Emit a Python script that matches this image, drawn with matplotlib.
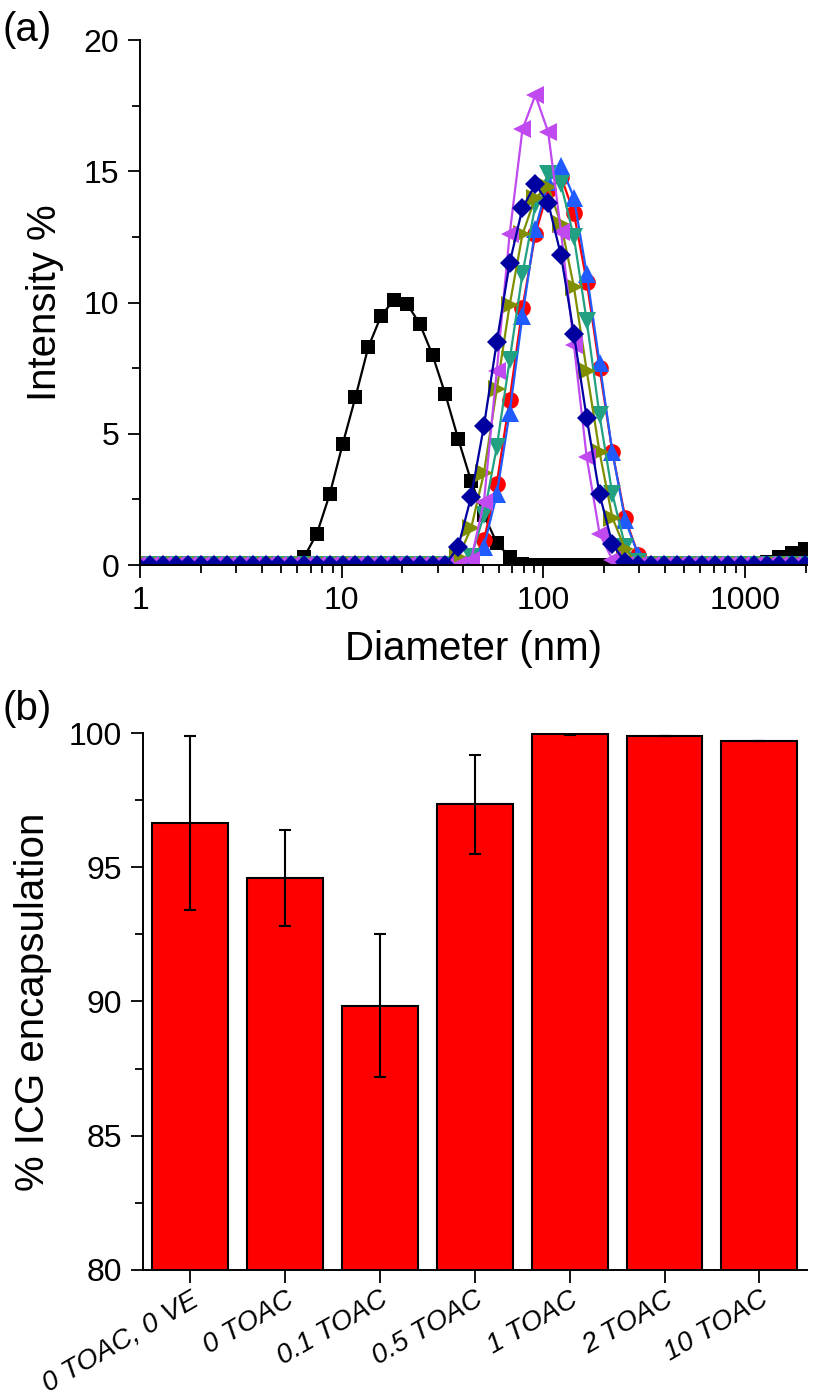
import matplotlib
matplotlib.use('Agg')
import matplotlib.pyplot as plt
from matplotlib.ticker import LogLocator, NullFormatter, MultipleLocator

plt.rcParams['font.family'] = ['Liberation Sans', 'DejaVu Sans']

# DLS size bins (nm)
diam = [0.965, 1.117, 1.294, 1.499, 1.736, 2.010, 2.328, 2.696, 3.122, 3.615,
        4.187, 4.849, 5.615, 6.503, 7.531, 8.721, 10.10, 11.70, 13.54, 15.69,
        18.17, 21.04, 24.36, 28.21, 32.67, 37.84, 43.82, 50.75, 58.77, 68.06,
        78.82, 91.28, 105.7, 122.4, 141.8, 164.2, 190.1, 220.2, 255.0, 295.3,
        342.0, 396.1, 458.7, 531.2, 615.1, 712.4, 825.0, 955.4, 1106, 1281,
        1484, 1718, 1990]

black = [0, 0, 0, 0, 0, 0, 0, 0, 0, 0, 0, 0, 0,
         0.3, 1.2, 2.7, 4.6, 6.4, 8.3, 9.5, 10.1, 9.95, 9.2, 8.0, 6.5, 4.8, 3.2, 1.9, 0.85, 0.3, 0.05,
         0, 0, 0, 0, 0, 0, 0, 0, 0, 0, 0, 0, 0, 0, 0, 0, 0, 0,
         0.1, 0.3, 0.45, 0.6]
red = [0, 0, 0, 0, 0, 0, 0, 0, 0, 0, 0, 0, 0, 0, 0, 0, 0, 0, 0, 0, 0, 0, 0, 0, 0, 0,
       0.1, 0.95, 3.1, 6.3, 9.8, 12.6, 14.3, 14.8, 13.4, 10.8, 7.5, 4.3, 1.8, 0.4,
       0, 0, 0, 0, 0, 0, 0, 0, 0, 0, 0, 0, 0]
blue = [0, 0, 0, 0, 0, 0, 0, 0, 0, 0, 0, 0, 0, 0, 0, 0, 0, 0, 0, 0, 0, 0, 0, 0, 0, 0, 0,
        0.7, 2.7, 5.8, 9.5, 12.8, 14.6, 15.2, 14.0, 11.1, 7.7, 4.3, 1.7, 0.4,
        0, 0, 0, 0, 0, 0, 0, 0, 0, 0, 0, 0, 0]
teal = [0, 0, 0, 0, 0, 0, 0, 0, 0, 0, 0, 0, 0, 0, 0, 0, 0, 0, 0, 0, 0, 0, 0, 0, 0, 0,
        0.3, 1.9, 4.5, 7.8, 11.1, 13.7, 14.9, 14.5, 12.5, 9.3, 5.7, 2.7, 0.7, 0.1,
        0, 0, 0, 0, 0, 0, 0, 0, 0, 0, 0, 0, 0]
olive = [0, 0, 0, 0, 0, 0, 0, 0, 0, 0, 0, 0, 0, 0, 0, 0, 0, 0, 0, 0, 0, 0, 0, 0, 0,
         0.3, 1.4, 3.5, 6.7, 9.9, 12.6, 14.0, 14.4, 13.0, 10.6, 7.4, 4.3, 1.8, 0.6,
         0, 0, 0, 0, 0, 0, 0, 0, 0, 0, 0, 0, 0, 0]
violet = [0, 0, 0, 0, 0, 0, 0, 0, 0, 0, 0, 0, 0, 0, 0, 0, 0, 0, 0, 0, 0, 0, 0, 0, 0, 0,
          0.2, 2.4, 7.4, 12.6, 16.6, 17.9, 16.5, 12.7, 8.4, 4.1, 1.2, 0.2,
          0, 0, 0, 0, 0, 0, 0, 0, 0, 0, 0, 0, 0, 0, 0]
navy = [0, 0, 0, 0, 0, 0, 0, 0, 0, 0, 0, 0, 0, 0, 0, 0, 0, 0, 0, 0, 0, 0, 0, 0, 0,
        0.7, 2.6, 5.3, 8.5, 11.5, 13.6, 14.5, 13.8, 11.8, 8.8, 5.6, 2.7, 0.8, 0.1,
        0, 0, 0, 0, 0, 0, 0, 0, 0, 0, 0, 0, 0, 0]

# bar chart data
samples = ['0 TOAC, 0 VE', '0 TOAC', '0.1 TOAC', '0.5 TOAC', '1 TOAC', '2 TOAC', '10 TOAC']
encap = [96.65, 94.6, 89.85, 97.35, 99.95, 99.9, 99.7]
encap_err = [3.25, 1.8, 2.65, 1.85, 0.02, 0, 0]

fig = plt.figure(figsize=(8.15, 14), dpi=100)

# ---- (a) size distributions ----
ax1 = fig.add_axes([0.172, 0.5964, 0.818, 0.375])
series = [(black, '#000000', 's', 10.5),
          (red, '#FF0000', 'o', 12),
          (blue, '#1F5BFF', '^', 13),
          (teal, '#22A082', 'v', 13),
          (olive, '#7F8F00', '>', 13),
          (violet, '#C04AF0', '<', 13),
          (navy, '#0000A0', 'D', 10.5)]
for vals, col, mk, ms in series:
    ax1.plot(diam, vals, color=col, marker=mk, markersize=ms, linewidth=1.6,
             markeredgewidth=0)

ax1.set_xscale('log')
ax1.set_xlim(1, 2030)
ax1.set_ylim(0, 20)
ax1.set_xticks([1, 10, 100, 1000])
ax1.set_xticklabels(['1', '10', '100', '1000'])
ax1.xaxis.set_minor_locator(LogLocator(base=10, subs=range(2, 10)))
ax1.xaxis.set_minor_formatter(NullFormatter())
ax1.yaxis.set_major_locator(MultipleLocator(5))
ax1.yaxis.set_minor_locator(MultipleLocator(2.5))
ax1.set_xlabel('Diameter (nm)', fontsize=29, labelpad=10)
ax1.set_ylabel('Intensity %', fontsize=29, labelpad=14)

# ---- (b) encapsulation ----
ax2 = fig.add_axes([0.175, 0.0929, 0.815, 0.3835])
pos = list(range(len(samples)))
ax2.bar(pos, encap, width=0.8, color='#FF0000', edgecolor='black', linewidth=1.5,
        yerr=encap_err, capsize=4, error_kw={'elinewidth': 1.5, 'capthick': 1.5})
ax2.set_xlim(-0.5, 6.5)
ax2.set_ylim(80, 100)
ax2.set_xticks(pos)
ax2.set_xticklabels(samples, rotation=30, ha='right', rotation_mode='anchor',
                    fontsize=20, style='italic')
ax2.yaxis.set_major_locator(MultipleLocator(5))
ax2.yaxis.set_minor_locator(MultipleLocator(2.5))
ax2.set_ylabel('% ICG encapsulation', fontsize=29, labelpad=12)

for ax in (ax1, ax2):
    ax.spines['top'].set_visible(False)
    ax.spines['right'].set_visible(False)
    ax.spines['left'].set_linewidth(1.4)
    ax.spines['bottom'].set_linewidth(1.4)
    ax.tick_params(which='major', direction='out', length=9, width=1.3,
                   labelsize=23, pad=6)
    ax.tick_params(which='minor', direction='out', length=5.5, width=1.3)
ax2.tick_params(axis='x', which='major', labelsize=20, pad=3)

fig.text(0.003, 0.992, '(a)', fontsize=29, va='top', ha='left')
fig.text(0.003, 0.507, '(b)', fontsize=29, va='top', ha='left')

fig.savefig('out.png', dpi=100)
